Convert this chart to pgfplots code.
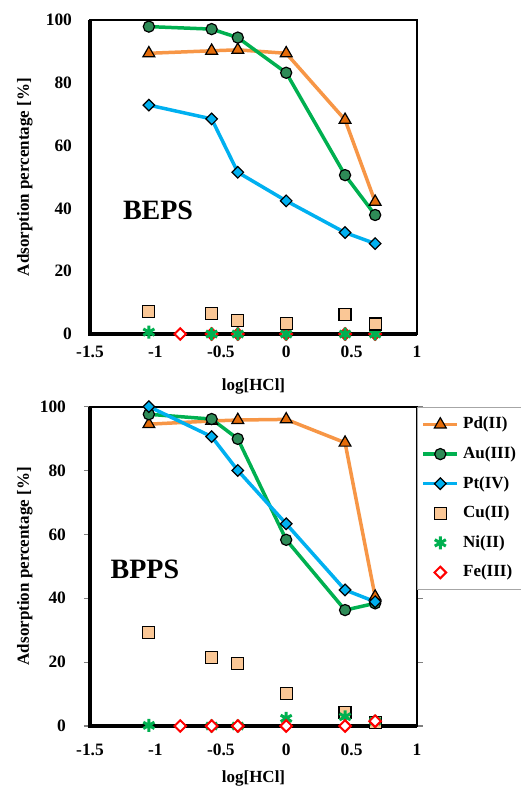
\documentclass[border=0pt]{standalone}
\usepackage{fontspec}
\setmainfont{Liberation Serif}
\usepackage{pgfplots}
\pgfplotsset{compat=1.18}
\definecolor{pdline}{RGB}{247,150,70}
\definecolor{pdfill}{RGB}{228,108,10}
\definecolor{auline}{RGB}{0,176,80}
\definecolor{aufill}{RGB}{46,139,87}
\definecolor{ptline}{RGB}{0,176,240}
\definecolor{cufill}{RGB}{250,199,150}
\definecolor{feline}{RGB}{214,128,60}

\pgfplotsset{
  panel/.style={
    scale only axis, width=163.5pt,
    xmin=-1.5, xmax=1, ymin=0, ymax=100,
    xtick={-1.5,-1,-0.5,0,0.5,1},
    ytick={0,20,40,60,80,100},
    xticklabels={\textbf{-1.5},\textbf{-1},\textbf{-0.5},\textbf{0},\textbf{0.5},\textbf{1}},
    yticklabels={\textbf{0},\textbf{20},\textbf{40},\textbf{60},\textbf{80},\textbf{100}},
    font=\fontsize{8.5}{10}\selectfont\bfseries,
    tick label style={font=\fontsize{8.7}{10}\selectfont\bfseries},
    axis line style={draw=black, line width=1pt},
    xtick style={draw=none},
    ytick style={draw=none},
    yticklabel style={xshift=-5.5pt},
    xticklabel style={yshift=-2.5pt},
    xlabel={log[HCl]},
    ylabel={Adsorption percentage [\%]},
    ylabel style={at={(axis description cs:-0.199,0.5)}, anchor=center},
    clip=false,
  },
  pd/.style={color=pdline, line width=1.75pt, mark=triangle*, mark size=3.4pt,
    mark options={fill=pdfill, draw=black, line width=0.6pt}},
  au/.style={color=auline, line width=1.75pt, mark=*, mark size=2.8pt,
    mark options={fill=aufill, draw=black, line width=0.6pt}},
  pt/.style={color=ptline, line width=1.75pt, mark=square*, mark size=2.05pt,
    mark options={fill=ptline, draw=black, line width=0.6pt, rotate=45}},
  cu/.style={only marks, mark=square*, mark size=3pt,
    mark options={fill=cufill, draw=black, line width=0.6pt}},
  ni/.style={only marks, mark=asterisk, mark size=3.2pt,
    mark options={draw=auline, line width=1.5pt}},
  fe/.style={only marks, mark=square*, mark size=2.05pt,
    mark options={draw=red, line width=1pt, fill=white, rotate=45}},
}

\begin{document}
\begin{tikzpicture}[x=1pt,y=1pt]
\useasboundingbox (0,0) rectangle (260,-394);

% ---- top panel: BEPS
\begin{axis}[panel, height=157pt, at={(45pt,-10pt)}, anchor=north west,
    xlabel style={at={(axis description cs:0.5,-0.1675)}, anchor=center}]
\draw[line width=1.6pt] (rel axis cs:0,1) -- (rel axis cs:0,0) -- (rel axis cs:1,0);
\addplot[fe, only marks=false, color=feline, line width=1.75pt] coordinates {
  (-0.81,0) (-0.57,0) (-0.37,0) (0,0) (0.45,0) (0.68,0)};
\addplot[ni] coordinates {
  (-1.05,0.6) (-0.57,0) (-0.37,0) (0,0) (0.45,0) (0.68,0)};
\addplot[cu] coordinates {
  (-1.05,7.1) (-0.57,6.6) (-0.37,4.2) (0,3.4) (0.45,6.1) (0.68,3.2)};
\addplot[pd] coordinates {
  (-1.05,89.4) (-0.57,90.2) (-0.37,90.5) (0,89.4) (0.45,68.2) (0.68,42.1)};
\addplot[au] coordinates {
  (-1.05,97.9) (-0.57,97.1) (-0.37,94.4) (0,83.2) (0.45,50.6) (0.68,37.9)};
\addplot[pt] coordinates {
  (-1.05,72.9) (-0.57,68.5) (-0.37,51.5) (0,42.4) (0.45,32.3) (0.68,28.8)};
\node[font=\fontsize{14}{16}\selectfont\bfseries] at (axis cs:-0.98,39.5) {BEPS};
\end{axis}

% ---- bottom panel: BPPS
\begin{axis}[panel, height=159.7pt, at={(45pt,-203.3pt)}, anchor=north west,
    xlabel style={at={(axis description cs:0.5,-0.163)}, anchor=center},
    ytick style={draw=gray, line width=0.6pt},
    major tick length=3pt, tick align=outside,
    legend style={at={(rel axis cs:1,1)}, anchor=north west,
      draw=gray!70, line width=0.5pt, fill=white,
      font=\fontsize{8.5}{10}\selectfont\bfseries,
      row sep=3.4pt, inner ysep=3pt, inner xsep=2pt,
      legend cell align=left},
    legend image post style={line width=1.75pt}]
\draw[line width=1.6pt] (rel axis cs:0,1) -- (rel axis cs:0,0) -- (rel axis cs:1,0);
\addplot[pd] coordinates {
  (-1.05,94.5) (-0.57,95.5) (-0.37,95.8) (0,96.0) (0.45,88.7) (0.68,40.5)};
\addlegendentry{\makebox[50pt][l]{Pd(II)}}
\addplot[au] coordinates {
  (-1.05,97.6) (-0.57,96.1) (-0.37,89.9) (0,58.3) (0.45,36.3) (0.68,38.4)};
\addlegendentry{Au(III)}
\addplot[pt] coordinates {
  (-1.05,100) (-0.57,90.6) (-0.37,80.0) (0,63.3) (0.45,42.6) (0.68,38.9)};
\addlegendentry{Pt(IV)}
\addplot[cu] coordinates {
  (-1.05,29.3) (-0.57,21.4) (-0.37,19.6) (0,10.2) (0.45,4.2) (0.68,1.2)};
\addlegendentry{Cu(II)}
\addplot[ni] coordinates {
  (-1.05,0.2) (-0.57,0) (-0.37,0) (0,2.4) (0.45,2.9) (0.68,1.5)};
\addlegendentry{Ni(II)}
\addplot[fe] coordinates {
  (-0.81,0) (-0.57,0) (-0.37,0) (0,0) (0.45,0) (0.68,1.5)};
\addlegendentry{Fe(III)}
\node[font=\fontsize{14}{16}\selectfont\bfseries] at (axis cs:-1.08,48.9) {BPPS};
\end{axis}
\end{tikzpicture}
\end{document}
